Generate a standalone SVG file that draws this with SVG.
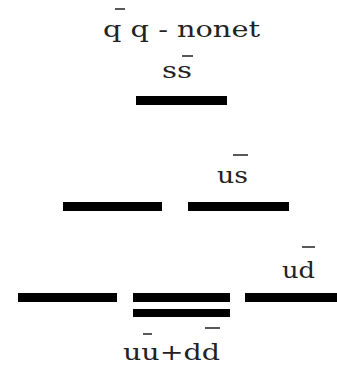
<svg xmlns="http://www.w3.org/2000/svg" width="337" height="369" viewBox="0 0 337 369">
<style>
.lvl{fill:#000}
.t{font-family:"DejaVu Serif","Liberation Serif",serif;font-size:22px;fill:#222}
.ob{stroke:#222;stroke-width:1.5;fill:none}
</style>
<rect width="337" height="369" fill="#fff"/>
<g id="title">
<text class="t" x="103" y="37" font-size="25" textLength="157" lengthAdjust="spacingAndGlyphs">q q - nonet</text>
<line class="ob" x1="115" y1="9" x2="125" y2="9"/>
</g>
<g id="ss">
<text class="t" x="162" y="78" textLength="30" lengthAdjust="spacingAndGlyphs">ss</text>
<line class="ob" x1="182" y1="56" x2="193" y2="56"/>
<rect class="lvl" x="136" y="96" width="91" height="9"/>
</g>
<g id="k-left">
<rect class="lvl" x="63" y="202" width="99" height="9"/>
</g>
<g id="us">
<text class="t" x="217" y="183" textLength="31" lengthAdjust="spacingAndGlyphs">us</text>
<line class="ob" x1="233" y1="155" x2="248" y2="155"/>
<rect class="lvl" x="188" y="202" width="101" height="9"/>
</g>
<g id="pi-left">
<rect class="lvl" x="18" y="293" width="99" height="9"/>
</g>
<g id="pi0">
<rect class="lvl" x="133" y="293" width="97" height="9"/>
<rect class="lvl" x="133" y="309" width="97" height="8"/>
<text class="t" x="123" y="360" textLength="97" lengthAdjust="spacingAndGlyphs">uu+dd</text>
<line class="ob" x1="143" y1="334" x2="152" y2="334"/>
<line class="ob" x1="205" y1="328" x2="220" y2="328"/>
</g>
<g id="ud">
<text class="t" x="282" y="278" textLength="33" lengthAdjust="spacingAndGlyphs">ud</text>
<line class="ob" x1="302" y1="247" x2="315" y2="247"/>
<rect class="lvl" x="245" y="293" width="92" height="9"/>
</g>
</svg>
